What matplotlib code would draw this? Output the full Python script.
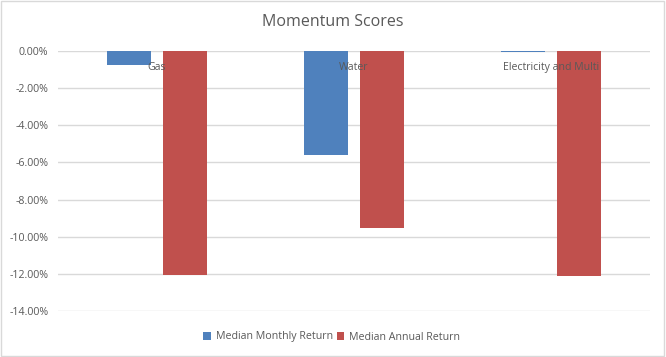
import numpy as np
import matplotlib
matplotlib.use('Agg')
import matplotlib.pyplot as plt
from matplotlib.ticker import FuncFormatter
from matplotlib.patches import Rectangle

plt.rcParams['font.family'] = ['Open Sans', 'DejaVu Sans']

# data
categories = ['Gas', 'Water', 'Electricity and Multi']
monthly = [-0.78, -5.58, -0.07]
annual = [-12.04, -9.51, -12.10]
yticks = [0, -2, -4, -6, -8, -10, -12, -14]

blue = '#4f81bd'
red = '#c0504d'
grey = '#595959'

fig = plt.figure(figsize=(6.66, 3.57), dpi=100)
ax = fig.add_axes([58/666, 1-311/357, 592/666, 260/357])

x = np.arange(len(categories))
w = 0.223
off = 0.142
ax.bar(x - off, monthly, w, color=blue, label='Median Monthly Return', zorder=2)
ax.bar(x + off, annual, w, color=red, label='Median Annual Return', zorder=2)

ax.set_xlim(-0.5, len(categories) - 0.5)
ax.set_ylim(-14, 0)
ax.set_yticks(yticks)
ax.yaxis.set_major_formatter(FuncFormatter(lambda v, p: '%.2f%%' % v))
ax.tick_params(axis='y', length=0, labelsize=7.7, labelcolor=grey, pad=7)
ax.set_xticks([])
ax.grid(axis='y', color='#d9d9d9', linewidth=1, zorder=0)
for s in ax.spines.values():
    s.set_visible(False)

# category labels just below the zero line
for i, c in enumerate(categories):
    ax.annotate(c, xy=(i, 0), xytext=(0, -8), textcoords='offset points',
                ha='center', va='top', fontsize=7.6, color=grey, zorder=5)

fig.text(0.5, 1-22/357, 'Momentum Scores', ha='center', va='center',
         fontsize=11.5, color=grey)

leg = fig.legend(loc='center', bbox_to_anchor=(332/666, 1-337/357), ncol=2,
                 frameon=False, fontsize=7.7, handlelength=0.7, handleheight=0.7,
                 handletextpad=0.5, columnspacing=0.3)
for t in leg.get_texts():
    t.set_color(grey)

fig.patches.append(Rectangle((0.002, 0.003), 0.995, 0.994, transform=fig.transFigure,
                             fill=False, edgecolor='#d9d9d9', linewidth=1))

fig.savefig('out.png', dpi=100)
